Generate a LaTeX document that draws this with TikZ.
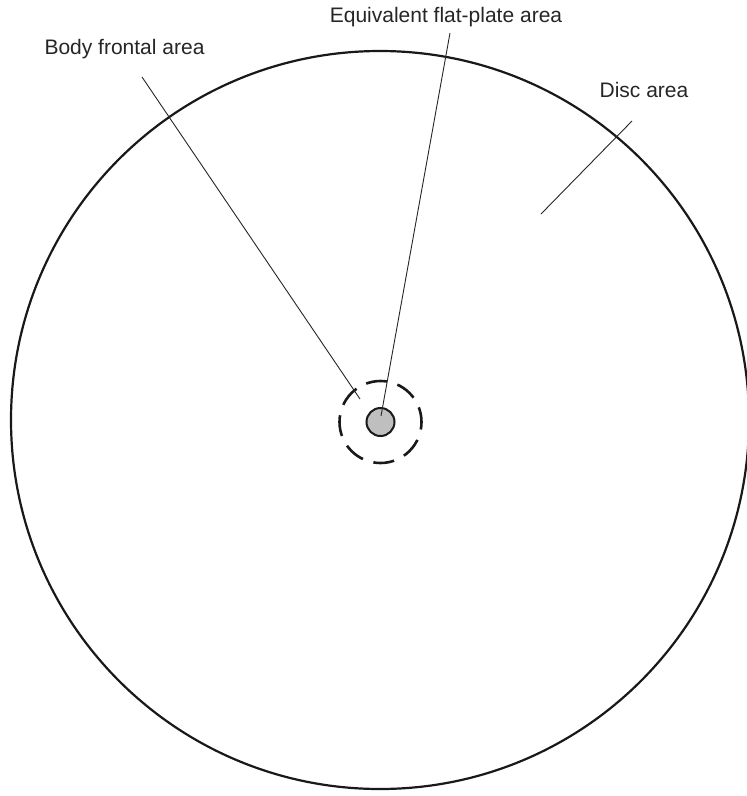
\documentclass[tikz,border=0pt]{standalone}
\usepackage{fontspec}
\setmainfont{Liberation Sans}
\begin{document}
\begin{tikzpicture}[x=1pt,y=-1pt,
  lbl/.style={font=\fontsize{21}{25}\selectfont, inner sep=0pt, text=black!85},
  leader/.style={line width=0.9pt, black!85},
  disc/.style={circle, draw=black!90, line width=2.2pt, minimum size=738pt, inner sep=0pt},
  body/.style={circle, draw=black!90, line width=2.6pt, dash pattern=on 21pt off 11pt, dash phase=6pt, minimum size=82pt, inner sep=0pt},
  plate/.style={circle, draw=black!90, fill=black!25!white, line width=2pt, minimum size=28pt, inner sep=0pt}]
\useasboundingbox (0,0) rectangle (747,796);
\fill[white] (0,0) rectangle (747,796);
\node[disc] (discc) at (380,420) {};
\node[body] (bodyc) at (380.5,422) {};
\node[plate] (platec) at (380.5,422) {};
\node[lbl, anchor=base] (tbody) at (124.5,54) {Body frontal area};
\node[lbl, anchor=base] (tplate) at (446,22) {Equivalent flat-plate area};
\node[lbl, anchor=base] (tdisc) at (644,97) {Disc area};
\coordinate (b1) at (142,77);
\coordinate (b2) at (360,399);
\coordinate (p1) at (450,33);
\coordinate (p2) at (381,416);
\coordinate (d1) at (632,121);
\coordinate (d2) at (541,214);
\draw[leader] (b1) -- (b2);
\draw[leader] (p1) -- (p2);
\draw[leader] (d1) -- (d2);
\end{tikzpicture}
\end{document}
